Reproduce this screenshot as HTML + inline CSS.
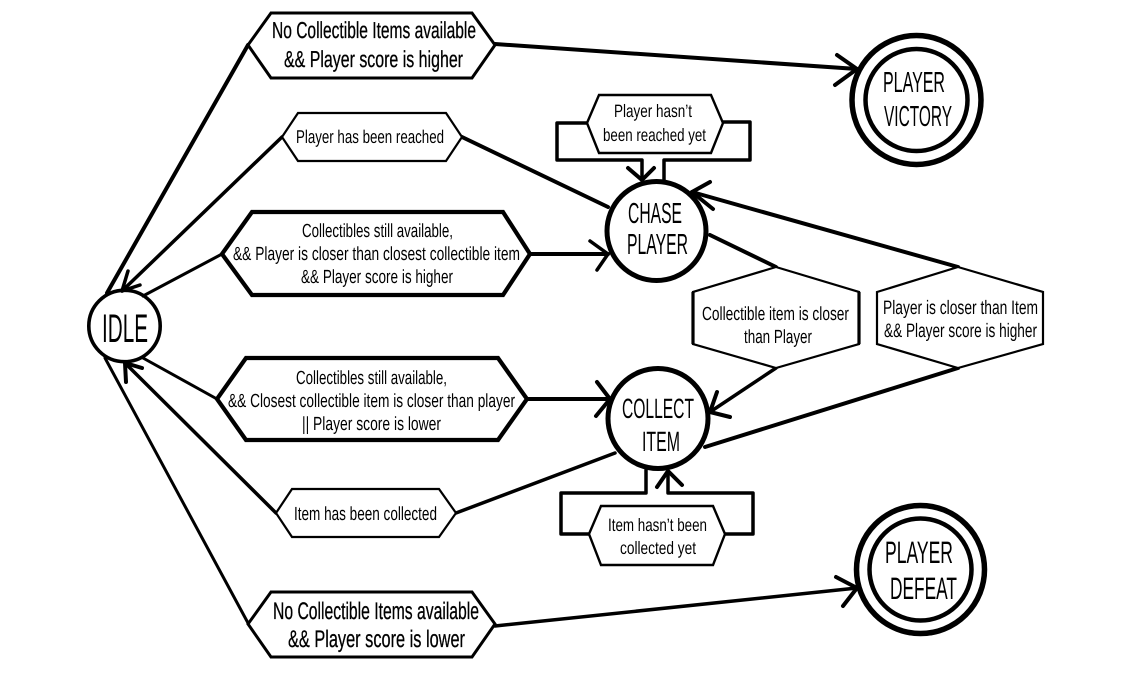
<!DOCTYPE html>
<html>
<head>
<meta charset="utf-8">
<style>
html,body{margin:0;padding:0;background:#fff}
svg{display:block}
text{font-family:"Liberation Sans",sans-serif;fill:#000;text-rendering:geometricPrecision}
.b{stroke:#000;stroke-width:.3}
.l{fill:none;stroke:#000;stroke-linecap:round;stroke-linejoin:round}
.h{fill:#fff;stroke:#000;stroke-linejoin:miter}
.c{fill:#fff;stroke:#000}
</style>
</head>
<body>
<svg width="1134" height="681" viewBox="0 0 1134 681" xmlns="http://www.w3.org/2000/svg">
<rect width="1134" height="681" fill="#fff"/>

<!-- circles -->
<circle class="c" cx="124.5" cy="326" r="35.7" stroke-width="3.6"/>
<circle class="c" cx="656.5" cy="231" r="49.5" stroke-width="5"/>
<circle class="c" cx="658" cy="418.5" r="50" stroke-width="5"/>
<circle class="c" cx="916.5" cy="100" r="64.5" stroke-width="5.5"/>
<circle class="c" cx="916.5" cy="100" r="51" stroke-width="4.5"/>
<circle class="c" cx="920.5" cy="569.5" r="64" stroke-width="5.5"/>
<circle class="c" cx="920.5" cy="569.5" r="51" stroke-width="4.5"/>

<!-- connectors -->
<g class="l">
<path d="M107 293L248 45" stroke-width="4"/>
<path d="M282 137L122 291" stroke-width="3.5"/>
<path d="M128 271L122 291L140 285" stroke-width="3.5"/>
<path d="M222 254L143 296" stroke-width="3"/>
<path d="M143 358L217 399" stroke-width="3"/>
<path d="M276 513L125 363" stroke-width="3.5"/>
<path d="M126 382L125 363L142 368" stroke-width="4"/>
<path d="M105 358L248 623" stroke-width="3"/>
<path d="M495 44L857 69" stroke-width="4"/>
<path d="M837 55L857 69L835 85" stroke-width="4"/>
<path d="M462 137L608 207" stroke-width="4"/>
<path d="M530 254L608 254" stroke-width="4"/>
<path d="M590 241L608 254L597 270" stroke-width="3.5"/>
<path d="M710 235L776 267" stroke-width="4"/>
<path d="M958 267L692 192" stroke-width="4"/>
<path d="M710 182L692 192L713 209" stroke-width="4"/>
<path d="M587 123H557V160H642V180" stroke-width="3.5"/>
<path d="M628 168L642 180L654 168" stroke-width="4"/>
<path d="M723 122H750V160H664V180" stroke-width="3.5"/>
<path d="M589 534H561V493H646V470" stroke-width="3.5"/>
<path d="M725 534H753V493H668V472" stroke-width="3.5"/>
<path d="M657 487L668 471L682 485" stroke-width="4"/>
<path d="M527 399H610" stroke-width="4"/>
<path d="M597 382L610 399L596 416" stroke-width="4"/>
<path d="M776 368L710 412" stroke-width="3.5"/>
<path d="M717 392L710 412L730 417" stroke-width="4"/>
<path d="M705 447L958 368" stroke-width="4"/>
<path d="M615 453L456 513" stroke-width="3.5"/>
<path d="M495 626L857 588" stroke-width="3.5"/>
<path d="M836 577L857 588L843 606" stroke-width="4"/>
</g>

<!-- hexagons -->
<polygon class="h" stroke-width="3" points="248,45 271,13 472,13 495,45 472,78 271,78"/>
<polygon class="h" stroke-width="2.2" points="282,137 298,113 446,113 462,137 446,161 298,161"/>
<polygon class="h" stroke-width="4.2" points="222,254 252,212 503,212 530,254 503,295 252,295"/>
<polygon class="h" stroke-width="4.2" points="217,399 246,358 498,358 527,399 498,440 246,440"/>
<polygon class="h" stroke-width="2.2" points="276,513 292,489 439,489 456,513 439,537 292,537"/>
<polygon class="h" stroke-width="3" points="248,624 271,592 472,592 495,624 472,657 271,657"/>
<polygon class="h" stroke-width="2.4" points="587,123 599,95 711,95 723,123 711,153 599,153"/>
<polygon class="h" stroke-width="2.2" points="776,267 859,292 859,344 776,368 693,344 693,292"/>
<path d="M693 292V344M859 292V344" stroke="#000" stroke-width="3.2" fill="none"/>
<polygon class="h" stroke-width="2.2" points="958,267 1043,292 1043,344 958,368 877,344 877,292"/>
<polygon class="h" stroke-width="2.4" points="589,534 601,506 713,506 725,534 713,565 601,565"/>

<!-- labels -->
<g>
<text class="b" x="272" y="38" font-size="23" textLength="204" lengthAdjust="spacingAndGlyphs">No Collectible Items available</text>
<text class="b" x="284" y="67" font-size="23" textLength="179" lengthAdjust="spacingAndGlyphs">&amp;&amp; Player score is higher</text>
<text x="296" y="143" font-size="18.5" textLength="148" lengthAdjust="spacingAndGlyphs">Player has been reached</text>
<text x="302" y="237" font-size="19" textLength="151" lengthAdjust="spacingAndGlyphs">Collectibles still available,</text>
<text x="233" y="260" font-size="19" textLength="287" lengthAdjust="spacingAndGlyphs">&amp;&amp; Player is closer than closest collectible item</text>
<text x="301" y="283" font-size="19" textLength="152" lengthAdjust="spacingAndGlyphs">&amp;&amp; Player score is higher</text>
<text x="296" y="384" font-size="19" textLength="151" lengthAdjust="spacingAndGlyphs">Collectibles still available,</text>
<text x="228" y="407" font-size="19" textLength="287" lengthAdjust="spacingAndGlyphs">&amp;&amp; Closest collectible item is closer than player</text>
<text x="302" y="430" font-size="19" textLength="139" lengthAdjust="spacingAndGlyphs">|| Player score is lower</text>
<text x="294" y="520" font-size="19" textLength="143" lengthAdjust="spacingAndGlyphs">Item has been collected</text>
<text class="b" x="273" y="619" font-size="24" textLength="206" lengthAdjust="spacingAndGlyphs">No Collectible Items available</text>
<text class="b" x="288" y="647" font-size="24" textLength="177" lengthAdjust="spacingAndGlyphs">&amp;&amp; Player score is lower</text>
<text x="614" y="117" font-size="18" textLength="78" lengthAdjust="spacingAndGlyphs">Player hasn’t</text>
<text x="603" y="141" font-size="18" textLength="103" lengthAdjust="spacingAndGlyphs">been reached yet</text>
<text x="702" y="320" font-size="19" textLength="147" lengthAdjust="spacingAndGlyphs">Collectible item is closer</text>
<text x="744" y="343" font-size="19" textLength="68" lengthAdjust="spacingAndGlyphs">than Player</text>
<text x="883" y="314" font-size="19.5" textLength="155" lengthAdjust="spacingAndGlyphs">Player is closer than Item</text>
<text x="884" y="337" font-size="19.5" textLength="153" lengthAdjust="spacingAndGlyphs">&amp;&amp; Player score is higher</text>
<text x="608" y="531" font-size="18" textLength="99" lengthAdjust="spacingAndGlyphs">Item hasn’t been</text>
<text x="620" y="554" font-size="18" textLength="76" lengthAdjust="spacingAndGlyphs">collected yet</text>
<text x="102" y="342" font-size="40" textLength="46" lengthAdjust="spacingAndGlyphs">IDLE</text>
<text x="628" y="223" font-size="29" textLength="54" lengthAdjust="spacingAndGlyphs">CHASE</text>
<text x="627" y="254" font-size="29" textLength="61" lengthAdjust="spacingAndGlyphs">PLAYER</text>
<text x="622" y="418" font-size="28" textLength="72" lengthAdjust="spacingAndGlyphs">COLLECT</text>
<text x="642" y="451" font-size="28" textLength="38" lengthAdjust="spacingAndGlyphs">ITEM</text>
<text x="883" y="92" font-size="29" textLength="62" lengthAdjust="spacingAndGlyphs">PLAYER</text>
<text x="884" y="126" font-size="29" textLength="68" lengthAdjust="spacingAndGlyphs">VICTORY</text>
<text x="885" y="563" font-size="31" textLength="68" lengthAdjust="spacingAndGlyphs">PLAYER</text>
<text x="890" y="599" font-size="31" textLength="67" lengthAdjust="spacingAndGlyphs">DEFEAT</text>
</g>
</svg>
</body>
</html>
